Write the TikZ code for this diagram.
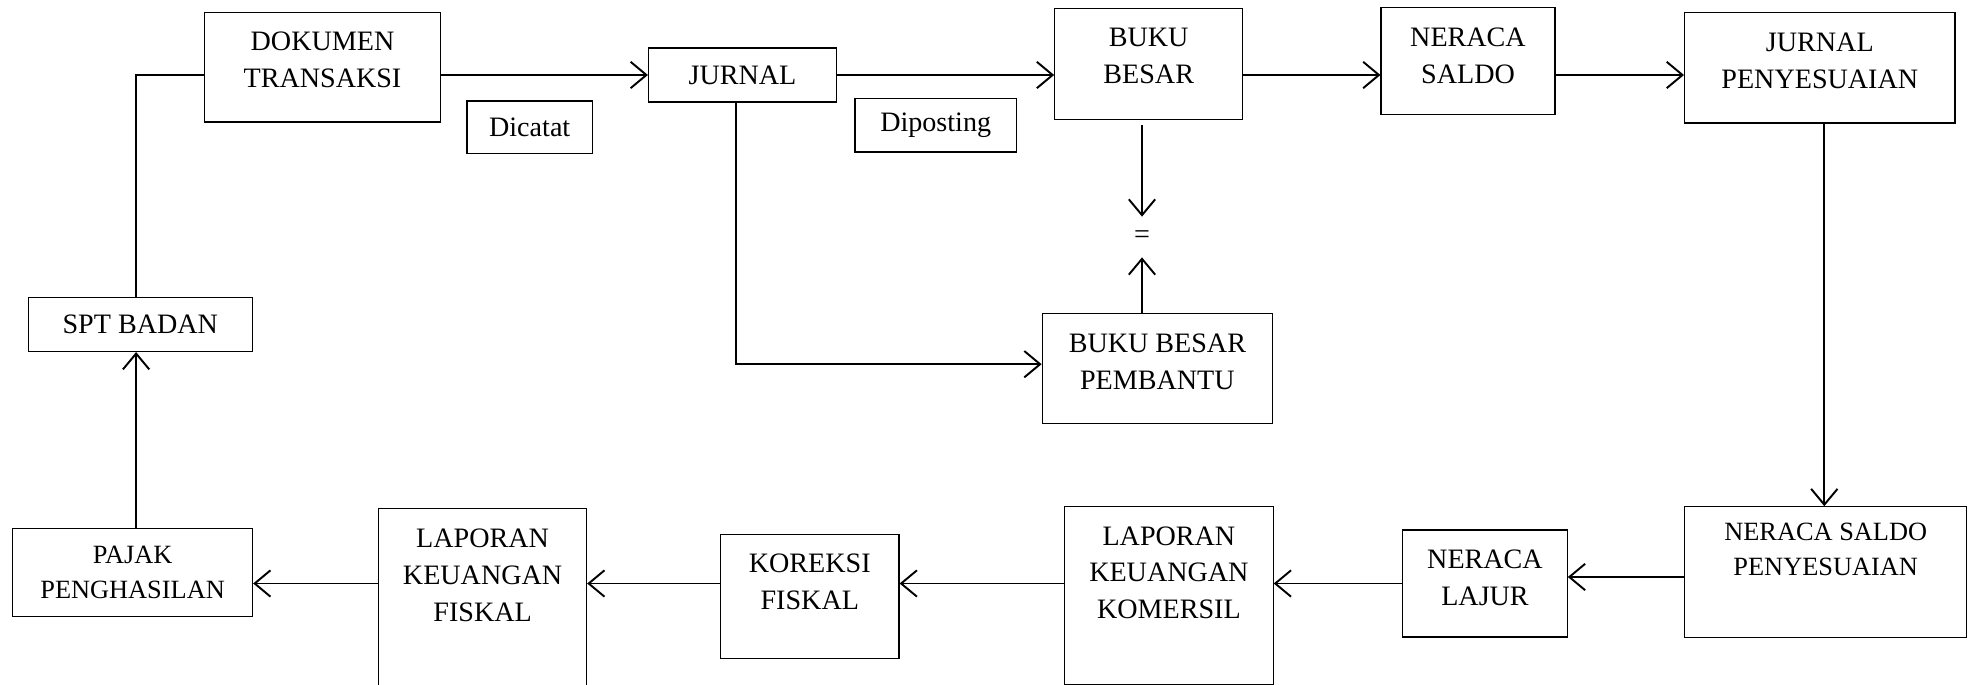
\documentclass[tikz,border=0pt]{standalone}
\usepackage{fontspec}
\setmainfont{Liberation Serif}
\usetikzlibrary{arrows.meta}
\newcommand{\lift}[1]{\\[#1]\mbox{}}

\begin{document}
\begin{tikzpicture}[x=0.02cm, y=-0.02cm,
                    box/.style={draw, line width=0.65pt, align=center, inner sep=0pt, font=\fontsize{16}{21}\selectfont},
                    small/.style={font=\fontsize{15}{20}\selectfont},
                    arr/.style={draw, line width=1.1pt, -{Straight Barb[length=9pt, width=15pt, line width=1.1pt]}},
                    line/.style={draw, line width=1.1pt}
                ]
    \useasboundingbox (0,0) rectangle (1968,685);

    % Top row
    \node[box, minimum width=4.72cm, minimum height=2.19cm] (DOK) at (322.5,67.2) {DOKUMEN\\TRANSAKSI\lift{-12pt}};
    \node[box, minimum width=2.51cm, minimum height=1.05cm] (DIC) at (529.7,127.3) {Dicatat};
    \node[box, minimum width=3.76cm, minimum height=1.08cm] (JUR) at (742.5,75) {JURNAL};
    \node[box, minimum width=3.23cm, minimum height=1.07cm] (DIP) at (935.7,125.2) {Diposting};
    \node[box, minimum width=3.76cm, minimum height=2.23cm] (BB) at (1148.7,64) {BUKU\\BESAR\lift{-12pt}};
    \node[box, minimum width=3.48cm, minimum height=2.13cm] (NS) at (1468,60.9) {NERACA\\SALDO\lift{-15pt}};
    \node[box, minimum width=5.41cm, minimum height=2.21cm] (JP) at (1819.8,67.8) {JURNAL\\PENYESUAIAN\lift{-13pt}};

    % Middle
    \node[box, minimum width=4.49cm, minimum height=1.08cm] (SPT) at (140.3,324.5) {SPT BADAN};
    \node[font=\fontsize{16}{21}\selectfont, minimum height=0.8cm, inner sep=0pt] (EQ) at (1142,237) {=};
    \node[box, minimum width=4.61cm, minimum height=2.2cm] (BBP) at (1157.4,368.7) {BUKU BESAR\\PEMBANTU\lift{-13pt}};

    % Bottom row
    \node[box, small, minimum width=4.80cm, minimum height=1.76cm] (PAJ) at (132.6,572.7) {PAJAK\\PENGHASILAN};
    \node[box, minimum width=4.16cm, minimum height=3.63cm] (LKF) at (482.6,599.4) {LAPORAN\\KEUANGAN\\FISKAL\lift{7pt}};
    \node[box, minimum width=3.57cm, minimum height=2.48cm] (KF) at (809.8,596.7) {KOREKSI\\FISKAL\lift{-4pt}};
    \node[box, minimum width=4.17cm, minimum height=3.55cm] (LKK) at (1168.9,595.5) {LAPORAN\\KEUANGAN\\KOMERSIL\lift{5pt}};
    \node[box, minimum width=3.29cm, minimum height=2.14cm] (NL) at (1485,583.5) {NERACA\\LAJUR\lift{-14pt}};
    \node[box, small, minimum width=5.64cm, minimum height=2.61cm] (NSP) at (1825.7,572) {NERACA SALDO\\PENYESUAIAN\lift{6pt}};

    % Connections
    \draw[arr] (DOK.east |- JUR) -- (JUR);
    \draw[arr] (JUR) -- (JUR -| BB.west);
    \draw[arr] (BB.east |- JUR) -- (NS.west |- JUR);
    \draw[arr] (NS.east |- JUR) -- (JP.west |- JUR);
    \draw[arr] ([xshift=-0.13cm]JUR.south) |- ([yshift=0.09cm]BBP.west);
    \draw[arr, shorten <=0.1cm] (BB.south -| EQ) -- (EQ);
    \draw[arr] (BBP.north -| EQ) -- (EQ);
    \draw[arr] ([xshift=0.09cm]JP.south) -- ([xshift=0.09cm]JP.south |- NSP.north);
    \draw[arr] ([yshift=0.13cm]NL.east -| NSP.west) -- ([yshift=0.13cm]NL.east);
    \draw[arr] (NL) -- (NL -| LKK.east);
    \draw[arr] (LKK.west |- NL) -- (KF.east |- NL);
    \draw[arr] (KF.west |- NL) -- (LKF.east |- NL);
    \draw[arr] (LKF.west |- NL) -- (PAJ.east |- NL);
    \draw[arr] ([xshift=0.07cm]PAJ.north) -- ([xshift=0.07cm]PAJ.north |- SPT.south);
    \draw[line] ([xshift=-0.09cm]SPT.north) |- (DOK.west |- JUR);
\end{tikzpicture}
\end{document}
